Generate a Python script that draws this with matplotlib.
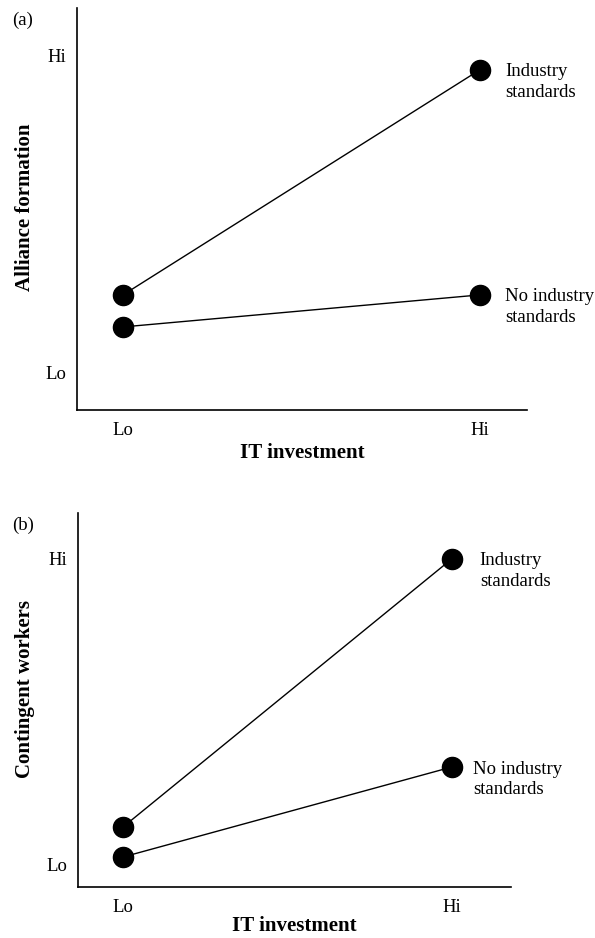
import matplotlib
matplotlib.use('Agg')
import matplotlib.pyplot as plt

plt.rcParams['font.family'] = ['Liberation Serif', 'DejaVu Serif']

# Data (Lo = 0, Hi = 1)
it_levels = [0, 1]
x_ticklabels = ['Lo', 'Hi']
y_ticklabels = ['Lo', 'Hi']

alliance_industry = [0.246, 0.956]
alliance_no_industry = [0.145, 0.246]

contingent_industry = [0.124, 1.0]
contingent_no_industry = [0.026, 0.32]

series_labels = ['Industry\nstandards', 'No industry\nstandards']

fig = plt.figure(figsize=(5.95, 9.38), dpi=100)

panels = [
    dict(rect=[0.1294, 0.5629, 0.7563, 0.4286], xlim=(-0.129, 1.132), ylim=(-0.117, 1.151),
         ys=[alliance_industry, alliance_no_industry], ylabel='Alliance formation',
         letter='(a)', letter_y=1 - 20 / 938, ylab=(-0.093, 0.505), dx=[25, 25], xpad=3),
    dict(rect=[0.1311, 0.0544, 0.7277, 0.3987], xlim=(-0.137, 1.18), ylim=(-0.072, 1.15),
         ys=[contingent_industry, contingent_no_industry], ylabel='Contingent workers',
         letter='(b)', letter_y=1 - 525 / 938, ylab=(-0.099, 0.53), dx=[28, 21], xpad=0.5),
]

for p in panels:
    ax = fig.add_axes(p['rect'])
    for ys, lab, dx in zip(p['ys'], series_labels, p['dx']):
        ax.plot(it_levels, ys, color='black', lw=1.0, marker='o', ms=14.5,
                mfc='black', mec='black', clip_on=False)
        ax.annotate(lab, xy=(it_levels[-1], ys[-1]), xytext=(dx * 0.72, -9),
                    textcoords='offset points', va='center', ha='left',
                    fontsize=13.5, linespacing=1.3)
    ax.set_xlim(*p['xlim'])
    ax.set_ylim(*p['ylim'])
    ax.set_xticks(it_levels)
    ax.set_xticklabels(x_ticklabels)
    ax.set_yticks([0, 1])
    ax.set_yticklabels(y_ticklabels)
    ax.tick_params(length=0, labelsize=13.5)
    ax.tick_params(axis='x', pad=8.5)
    ax.tick_params(axis='y', pad=8)
    ax.spines['top'].set_visible(False)
    ax.spines['right'].set_visible(False)
    ax.spines['left'].set_linewidth(1.2)
    ax.spines['bottom'].set_linewidth(1.2)
    ax.set_xlabel('IT investment', fontsize=15, fontweight='bold', labelpad=p['xpad'])
    ax.set_ylabel(p['ylabel'], fontsize=15, fontweight='bold')
    ax.yaxis.set_label_coords(*p['ylab'])
    fig.text(12 / 595, p['letter_y'], p['letter'], fontsize=13.5, va='center', ha='left')

fig.savefig('out.png', dpi=100)
